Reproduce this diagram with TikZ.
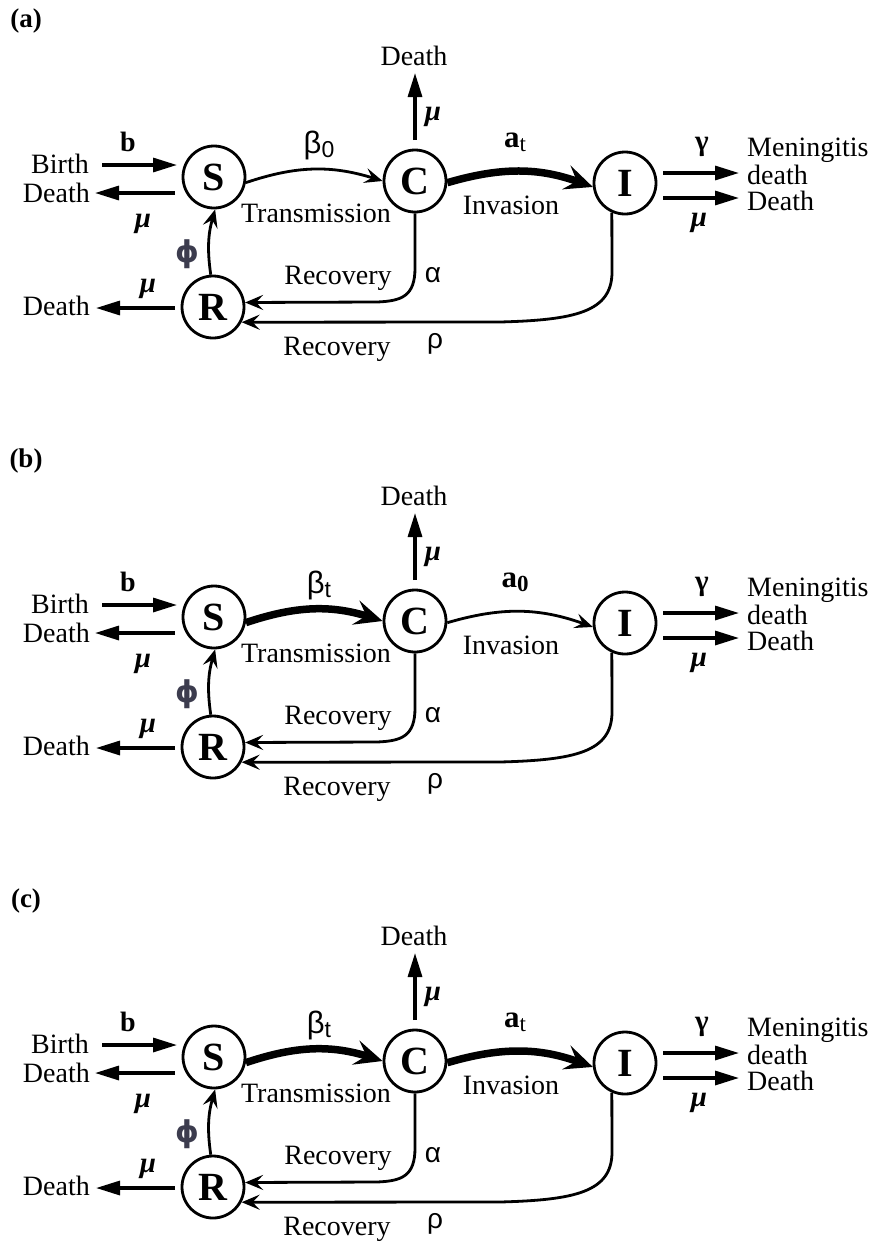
\documentclass[tikz,border=0pt]{standalone}
\usepackage{fontspec}
\setmainfont{Liberation Serif}
\newfontfamily\gsans{Liberation Sans}
\newfontfamily\gdeja{DejaVu Sans}
\usetikzlibrary{arrows.meta}
\definecolor{phigray}{RGB}{60,60,78}
\newcommand{\subsz}{\fontsize{23}{23}\selectfont}
\tikzset{
 state/.style={circle, draw, line width=2.8pt, minimum size=62pt, inner sep=0pt, font=\fontsize{40}{40}\selectfont\bfseries},
 txt/.style={inner sep=0pt, font=\fontsize{28}{30}\selectfont},
 ratelbl/.style={inner sep=0pt, font=\fontsize{31}{32}\selectfont},
 thinarr/.style={line width=2.8pt, -{Stealth[length=18pt,width=15pt,inset=7pt]}},
 thickarr/.style={line width=7.5pt, -{Stealth[length=28pt,width=25pt,inset=11pt]}},
 triarr/.style={line width=3.2pt, -{Triangle[length=24pt,width=14pt]}},
}
\newcommand{\drawpanel}[6]{%
\begin{scope}[shift={(0,-#1)}, name prefix=#2-]
 \node[txt, font=\fontsize{27}{30}\selectfont\bfseries] (lab) at (26,-21) {(#2)};
 \node[state] (S) at (214,-177) {S};
 \node[state] (C) at (415,-181) {C};
 \node[state] (I) at (625,-183) {I};
 \node[state] (R) at (213,-307) {R};
 % texts
 \node[txt, anchor=base east] (birth) at (89,-173) {Birth};
 \node[txt, anchor=base east] (deathS) at (90,-202) {Death};
 \node[txt, anchor=base east] (deathR) at (90,-315) {Death};
 \node[txt, anchor=base] (deathC) at (414,-65) {Death};
 \node[txt, anchor=base west] (men) at (747,-156) {Meningitis};
 \node[txt, anchor=base west] (mend) at (747,-184) {death};
 \node[txt, anchor=base west] (deathI) at (747,-210) {Death};
 \node[txt, anchor=base] (trans) at (316,-222) {Transmission};
 \node[txt, anchor=base] (inv) at (511,-214) {Invasion};
 \node[txt, anchor=base] (rec1) at (338,-284) {Recovery};
 \node[txt, anchor=base] (rec2) at (337,-355) {Recovery};
 % rate labels
 \node[txt, font=\fontsize{28}{30}\selectfont\bfseries] (b) at (128,-142) {b};
 \node[txt, font=\fontsize{29}{30}\selectfont\bfseries\itshape] (muS) at (143,-224) {μ};
 \node[txt, font=\fontsize{29}{30}\selectfont\bfseries\itshape] (muR) at (148,-289) {μ};
 \node[txt, font=\fontsize{29}{30}\selectfont\bfseries\itshape] (muC) at (433,-117) {μ};
 \node[txt, font=\fontsize{29}{30}\selectfont\bfseries\itshape] (muI) at (699,-223) {μ};
 \node[txt, font=\fontsize{29}{30}\selectfont\bfseries] (gam) at (702,-147) {γ};
 \node[txt, text=phigray, font=\fontsize{30}{30}\selectfont\gdeja\bfseries] (phi) at (187,-254) {ϕ};
 \node[ratelbl] (beta) at (319,-145) {#4};
 \node[ratelbl] (arate) at (515,-142) {#6};
 \node[txt, font=\fontsize{28}{30}\selectfont\gsans] (alp) at (433,-275) {α};
 \node[txt, font=\fontsize{28}{30}\selectfont\gsans] (rho) at (435,-344) {ρ};
 % free arrow ends
 \coordinate (b1) at (102,-165); \coordinate (b2) at (177,-165);
 \coordinate (ds1) at (175,-193); \coordinate (ds2) at (95,-193);
 \coordinate (dr1) at (175,-308); \coordinate (dr2) at (96,-308);
 \coordinate (dc1) at (415,-140); \coordinate (dc2) at (415,-73);
 \coordinate (i1) at (663,-173); \coordinate (i2) at (739,-173);
 \coordinate (i3) at (663,-198); \coordinate (i4) at (739,-198);
 \draw[triarr] (b1) -- (b2);
 \draw[triarr] (ds1) -- (ds2);
 \draw[triarr] (dr1) -- (dr2);
 \draw[triarr] (dc1) -- (dc2);
 \draw[triarr] (i1) -- (i2);
 \draw[triarr] (i3) -- (i4);
 % flows
 \draw[thinarr] (R.94) to[bend left=12] (S.-88);
 \draw[#3] (S.-10) to[bend left=18] (C.180);
 \draw[#5] (C.-3) to[bend left=18] (I.187);
 \draw[thinarr] (C.south) -- (415,-268) .. controls (415,-296) and (402,-301) .. (377,-302) -- (R.8);
 \draw[thinarr] (I.-114) -- (612,-272) .. controls (612,-312) and (575,-320) .. (500,-322) -- (R.-28);
\end{scope}}
\begin{document}
\begin{tikzpicture}[x=1pt,y=1pt]
\useasboundingbox (0,0) rectangle (874,-1243);
\drawpanel{0}{a}{thinarr}{\gsans β\raisebox{-0.3ex}{\subsz 0}}{thickarr}{\bfseries a\raisebox{-0.3ex}{\subsz\mdseries t}}
\drawpanel{440}{b}{thickarr}{\gsans β\raisebox{-0.3ex}{\subsz t}}{thinarr}{\bfseries a\raisebox{-0.3ex}{\subsz 0}}
\drawpanel{880}{c}{thickarr}{\gsans β\raisebox{-0.3ex}{\subsz t}}{thickarr}{\bfseries a\raisebox{-0.3ex}{\subsz\mdseries t}}
\end{tikzpicture}
\end{document}
